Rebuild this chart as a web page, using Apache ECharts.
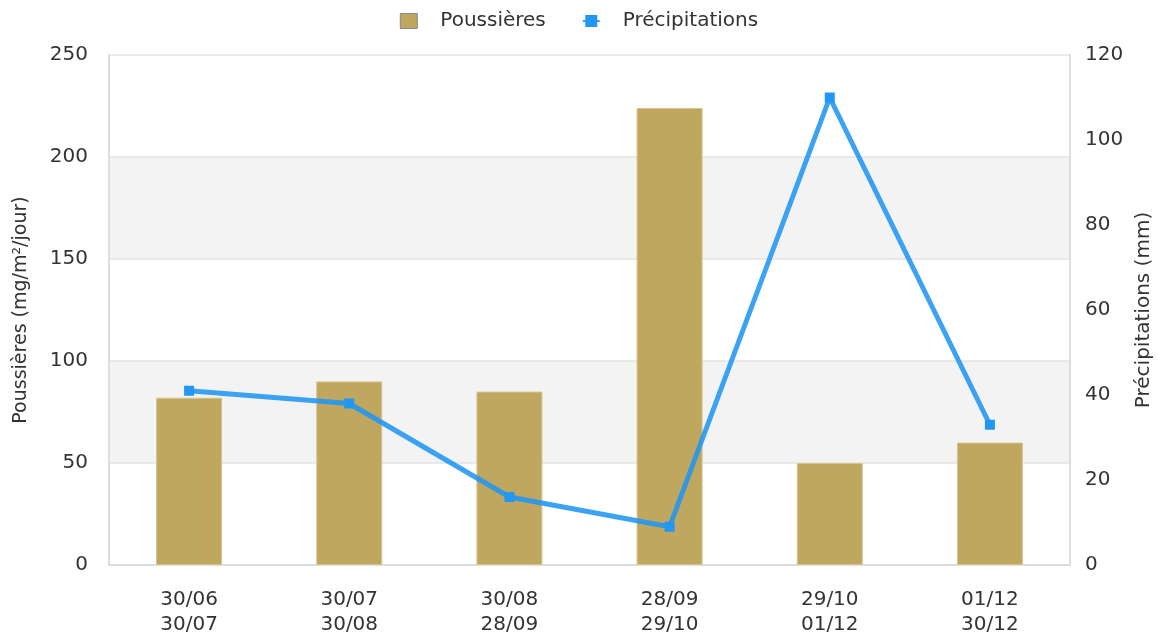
<!DOCTYPE html>
<html><head><meta charset="utf-8">
<script src="https://cdn.jsdelivr.net/npm/echarts@6/dist/echarts.min.js"></script>
<style>html,body{margin:0;padding:0;background:#fff}#c{width:1158px;height:635px}</style>
</head><body><div id="c"></div>
<script>
const categories = ["30/06\n30/07","30/07\n30/08","30/08\n28/09","28/09\n29/10","29/10\n01/12","01/12\n30/12"];
const poussieres = [82, 90, 85, 224, 50, 60];
const precipitations = [41, 38, 16, 9, 110, 33];
const font = "DejaVu Sans";
const chart = echarts.init(document.getElementById('c'), null, {renderer:'canvas'});
chart.setOption({
  animation:false,
  textStyle:{fontFamily:font},
  legend:{top:6,left:'center',itemGap:36,itemWidth:17,itemHeight:15,
    textStyle:{fontFamily:font,fontSize:20,color:'#333',padding:[0,0,0,18]},
    data:[{name:'Poussières',icon:'rect',itemStyle:{borderColor:'#8a8a8a',borderWidth:1}},{name:'Précipitations'}]},
  grid:{left:109,right:88,top:55,bottom:70,containLabel:false,outerBoundsMode:'none'},
  xAxis:{type:'category',data:categories,
    axisLine:{lineStyle:{color:'#ddd',width:2}},axisTick:{show:false},
    axisLabel:{fontFamily:font,fontSize:20,color:'#333',lineHeight:25,margin:22}},
  yAxis:[{type:'value',min:0,max:250,interval:50,name:'Poussières (mg/m²/jour)',
      nameLocation:'middle',nameGap:78,nameTextStyle:{fontFamily:font,fontSize:19,color:'#333'},
      axisLine:{show:true,lineStyle:{color:'#ddd',width:2}},axisTick:{show:false},
      axisLabel:{fontFamily:font,fontSize:20,color:'#333',margin:21},
      splitLine:{lineStyle:{color:'#e3e3e3',width:1.5}},
      splitArea:{show:true,areaStyle:{color:['#ffffff','#f3f3f3']}}},
    {type:'value',min:0,max:120,interval:20,name:'Précipitations (mm)',
      nameLocation:'middle',nameGap:62,nameRotate:90,nameTextStyle:{fontFamily:font,fontSize:20,color:'#333'},
      axisLine:{show:true,lineStyle:{color:'#ddd',width:2}},axisTick:{show:false},
      axisLabel:{fontFamily:font,fontSize:20,color:'#333',margin:15},
      splitLine:{show:false}}],
  series:[{name:'Poussières',type:'bar',data:poussieres,barWidth:66,
      itemStyle:{color:'#bfa760',borderColor:'#d6c48e',borderWidth:1}},
    {name:'Précipitations',type:'line',yAxisIndex:1,data:precipitations,
      symbol:'rect',symbolSize:10,
      itemStyle:{color:'#2196f3'},lineStyle:{color:'#2196f3',width:5,opacity:0.88}}]
});
</script></body></html>
